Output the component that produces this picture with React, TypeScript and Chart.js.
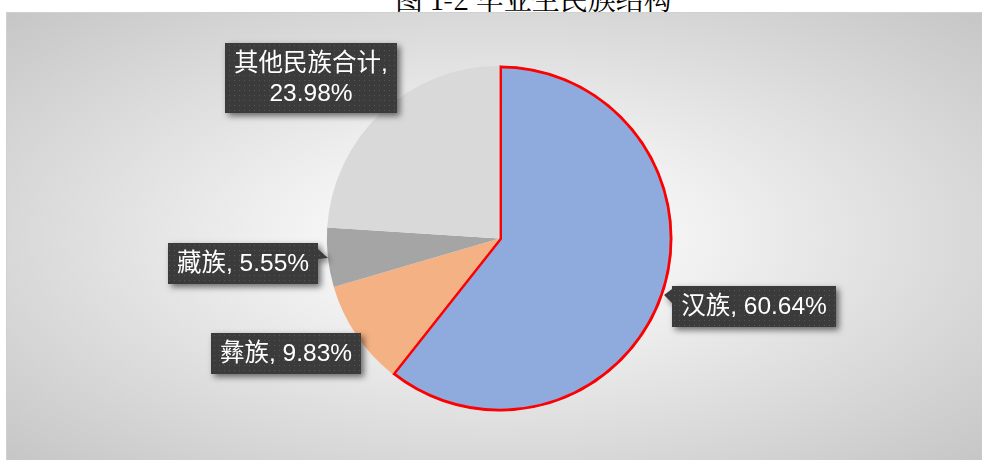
import React, { useEffect, useRef } from "react";
import { Chart, registerables } from "chart.js";

Chart.register(...registerables);

// ---- data ----
const title = "图 1-2 毕业生民族结构";
const categories = ["汉族", "彝族", "藏族", "其他民族合计"];
const shares = [60.64, 9.83, 5.55, 23.98];
const sliceColors = ["#8FAADC", "#F4B183", "#A5A5A5", "#D9D9D9"];

// ---- label styling (offsets from each slice's outer mid point) ----
const labelOffsets: [number, number][] = [
  [91, 11.5],
  [-70, 18.5],
  [-84.5, 5.5],
  [-70.5, -34.5],
];
const pointerSides = ["left", "none", "right", "none"];

const FONT = '24.5px "Liberation Sans", "Noto Sans CJK SC", sans-serif';
const LINE_H = 29.5;

function labelLines(i: number): string[] {
  const cat = categories[i];
  const val = shares[i].toFixed(2) + "%";
  if (cat.length > 4) return [cat + ",", val];
  return [cat + ", " + val];
}

function makePattern(ctx: CanvasRenderingContext2D) {
  const c = document.createElement("canvas");
  c.width = 5;
  c.height = 5;
  const p = c.getContext("2d")!;
  p.fillStyle = "#3b3b3b";
  p.fillRect(0, 0, 5, 5);
  p.fillStyle = "#575757";
  p.fillRect(2, 2, 1, 1);
  return ctx.createPattern(c, "repeat");
}

const calloutPlugin = {
  id: "callouts",
  afterDatasetsDraw(chart: any) {
    const ctx: CanvasRenderingContext2D = chart.ctx;
    const meta = chart.getDatasetMeta(0);
    const pattern = makePattern(ctx);
    ctx.save();
    ctx.font = FONT;
    meta.data.forEach((arc: any, i: number) => {
      const { x, y, startAngle, endAngle, outerRadius } = arc.getProps(
        ["x", "y", "startAngle", "endAngle", "outerRadius"],
        true
      );
      const mid = (startAngle + endAngle) / 2;
      const ex = x + Math.cos(mid) * outerRadius;
      const ey = y + Math.sin(mid) * outerRadius;
      const cx = ex + labelOffsets[i][0];
      const cy = ey + labelOffsets[i][1];
      const lines = labelLines(i);
      const tw = Math.max(...lines.map((l) => ctx.measureText(l).width));
      const w = Math.round(tw + 18);
      const h = Math.round(lines.length * LINE_H + 11);
      const left = Math.round(cx - w / 2);
      const top = Math.round(cy - h / 2);

      ctx.beginPath();
      ctx.rect(left, top, w, h);
      if (pointerSides[i] === "left") {
        ctx.moveTo(left, top + 3);
        ctx.lineTo(left - 8, top + 9);
        ctx.lineTo(left, top + 17);
        ctx.closePath();
      } else if (pointerSides[i] === "right") {
        ctx.moveTo(left + w, top + 6);
        ctx.lineTo(left + w + 10, top + 15);
        ctx.lineTo(left + w, top + 16);
        ctx.closePath();
      }
      ctx.save();
      ctx.shadowColor = "rgba(0,0,0,0.55)";
      ctx.shadowBlur = 6;
      ctx.shadowOffsetX = 3;
      ctx.shadowOffsetY = 3;
      ctx.fillStyle = pattern || "#3b3b3b";
      ctx.fill();
      ctx.restore();

      ctx.fillStyle = "#ffffff";
      ctx.textAlign = "center";
      ctx.textBaseline = "middle";
      lines.forEach((l, k) => {
        ctx.fillText(l, left + w / 2, top + 5.5 + LINE_H * k + LINE_H / 2 + 1);
      });
    });
    ctx.restore();
  },
};

export default function App() {
  const ref = useRef<HTMLCanvasElement | null>(null);

  useEffect(() => {
    if (!ref.current) return;
    const chart = new Chart(ref.current, {
      type: "pie",
      data: {
        labels: categories,
        datasets: [
          {
            data: shares,
            backgroundColor: sliceColors,
            borderColor: ["#FF0000", "rgba(0,0,0,0)", "rgba(0,0,0,0)", "rgba(0,0,0,0)"],
            borderWidth: [2.5, 0, 0, 0],
            borderAlign: "inner",
            radius: 173,
          } as any,
        ],
      },
      options: {
        responsive: false,
        animation: false,
        layout: { padding: { left: 10, right: 0, top: 4, bottom: 0 } },
        plugins: {
          legend: { display: false },
          tooltip: { enabled: false },
          title: { display: false },
        },
        events: [],
      },
      plugins: [calloutPlugin],
    });
    return () => chart.destroy();
  }, []);

  return (
    <div
      style={{
        position: "absolute",
        left: 0,
        top: 0,
        width: 982,
        height: 460,
        overflow: "hidden",
        background: "#ffffff",
      }}
    >
      <div
        style={{
          position: "absolute",
          left: 395,
          top: -22,
          whiteSpace: "nowrap",
          fontFamily: '"Noto Serif CJK SC", "Noto Sans CJK SC", serif',
          fontSize: 28,
          color: "#000",
        }}
      >
        {title}
      </div>
      <div
        style={{
          position: "absolute",
          left: 6,
          top: 12,
          width: 976,
          height: 448,
          borderLeft: "1px solid #d0d0d0",
          borderTop: "1px solid #d0d0d0",
          boxSizing: "border-box",
          background:
            "radial-gradient(ellipse farthest-corner at 50% 50%, #ffffff 0%, #f4f4f4 25%, #c6c6c6 100%)",
        }}
      >
        <canvas ref={ref} width={975} height={447} style={{ display: "block" }} />
      </div>
    </div>
  );
}
